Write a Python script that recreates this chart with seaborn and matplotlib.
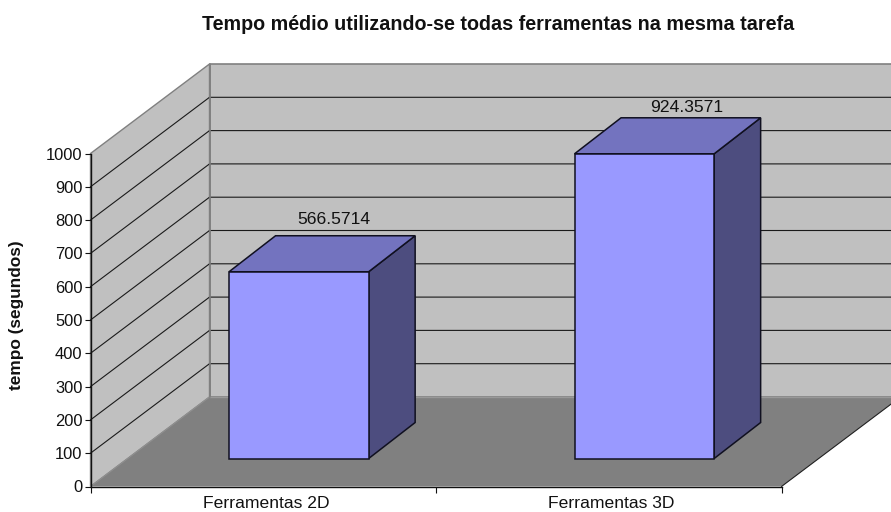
import numpy as np
import pandas as pd
import matplotlib
matplotlib.use("Agg")
import matplotlib.pyplot as plt
from matplotlib.patches import Polygon
import seaborn as sns

categories = ["Ferramentas 2D", "Ferramentas 3D"]
values = [566.5714, 924.3571]
value_labels = ["566.5714", "924.3571"]
y_ticks = list(range(0, 1001, 100))
title_text = "Tempo médio utilizando-se todas ferramentas na mesma tarefa"
y_label = "tempo (segundos)"

W, H = 891, 512
sns.set_theme(style="white")
plt.rcParams["font.family"] = ["Liberation Sans", "DejaVu Sans"]

# pixel calibration of the front plane
PX_PER_CAT = 345.5
PX_PER_UNIT = 0.333
X0_PX, Y0_PX = 263.25, 486.5
WALL_DX = 119 / PX_PER_CAT
WALL_DY = 89.5 / PX_PER_UNIT
BAR_DX = 46.5 / PX_PER_CAT
BAR_DY = 36 / PX_PER_UNIT
BAR_SHIFT = 35.6 / PX_PER_CAT
BAR_LIFT = 84
BAR_SCALE = 0.99
BAR_WIDTH = 0.404
LABEL_OFFSETS_PX = [(35, 52), (42.5, 46.5)]  # from front-face top centre

fig = plt.figure(figsize=(W / 100, H / 100), dpi=100, facecolor="white")
ax = fig.add_axes([0, 0, 1, 1], facecolor="white")

df = pd.DataFrame({"cat": categories, "val": np.array(values) * BAR_SCALE})
sns.barplot(data=df, x="cat", y="val", ax=ax, color="#9999FF", saturation=1,
            width=BAR_WIDTH, gap=0, bottom=BAR_LIFT, errorbar=None,
            edgecolor="#101020", linewidth=1.1, zorder=5)

xlim = ((0 - X0_PX) / PX_PER_CAT, (W - X0_PX) / PX_PER_CAT)
ylim = ((Y0_PX - H) / PX_PER_UNIT, Y0_PX / PX_PER_UNIT)
ax.set_xlim(xlim)
ax.set_ylim(ylim)

xl, xr = -0.5, 1.5
far = xr + WALL_DX + 1
EDGE = "#808080"
# walls and floor
ax.add_patch(Polygon([(xl, 0), (xl, 1000), (xl + WALL_DX, 1000 + WALL_DY), (xl + WALL_DX, WALL_DY)],
                     closed=True, fc="#C0C0C0", ec=EDGE, lw=1.0, zorder=0.5))
ax.add_patch(Polygon([(xl + WALL_DX, WALL_DY), (xl + WALL_DX, 1000 + WALL_DY), (far, 1000 + WALL_DY), (far, WALL_DY)],
                     closed=True, fc="#C0C0C0", ec=EDGE, lw=1.2, zorder=0.5))
ax.add_patch(Polygon([(xl, 0), (xr, 0), (xr + WALL_DX, WALL_DY), (xl + WALL_DX, WALL_DY)],
                     closed=True, fc="#808080", ec="none", zorder=0.6))
ax.plot([xl, xl + WALL_DX], [0, WALL_DY], color="#909090", lw=0.8, zorder=0.7)
ax.plot([xr, xr + WALL_DX], [0, WALL_DY], color="#202020", lw=0.8, zorder=0.7)
ax.plot([xl + WALL_DX, far], [WALL_DY, WALL_DY], color="#999999", lw=1.0, zorder=0.7)
ax.plot([xl + WALL_DX, xl + WALL_DX], [WALL_DY, WALL_DY + 1000], color=EDGE, lw=1.2, zorder=0.8)

# gridlines on side and back walls
for t in y_ticks:
    if t == 0 or t == 1000:
        continue
    ax.plot([xl, xl + WALL_DX, far], [t, t + WALL_DY, t + WALL_DY],
            color="#1a1a1a", lw=0.8, zorder=0.75)

# 3-D faces and labels of each bar
for bar, lab, (ox, oy) in zip(ax.patches, value_labels, LABEL_OFFSETS_PX):
    bar.set_x(bar.get_x() + BAR_SHIFT)
    x0, x1 = bar.get_x(), bar.get_x() + bar.get_width()
    y0, y1 = bar.get_y(), bar.get_y() + bar.get_height()
    ax.add_patch(Polygon([(x1, y0), (x1, y1), (x1 + BAR_DX, y1 + BAR_DY), (x1 + BAR_DX, y0 + BAR_DY)],
                         closed=True, fc="#4D4D7F", ec="#101020", lw=1.1, zorder=4))
    ax.add_patch(Polygon([(x0, y1), (x1, y1), (x1 + BAR_DX, y1 + BAR_DY), (x0 + BAR_DX, y1 + BAR_DY)],
                         closed=True, fc="#7373BF", ec="#101020", lw=1.1, zorder=4))
    ax.text((x0 + x1) / 2 + ox / PX_PER_CAT, y1 + oy / PX_PER_UNIT, lab,
            ha="center", va="center", fontsize=12.6, color="#111111", zorder=6)

# axes
for s in ("top", "right"):
    ax.spines[s].set_visible(False)
ax.spines["left"].set_position(("data", xl))
ax.spines["left"].set_bounds(0, 1000)
ax.spines["bottom"].set_position(("data", 0))
ax.spines["bottom"].set_bounds(xl, xr)
for s in ("left", "bottom"):
    ax.spines[s].set_color("#111111")
    ax.spines[s].set_linewidth(1.0)
    ax.spines[s].set_zorder(3)
ax.set_yticks(y_ticks)
label_nudge = 3 / PX_PER_CAT
ax.set_xticks([0 + label_nudge, 1 + label_nudge])
ax.set_xticklabels(categories)
ax.set_xticks([xl, 0.5, xr], minor=True)
ax.tick_params(axis="y", which="major", left=True, length=4.2, width=0.8, color="#111111",
               labelsize=11.9, labelcolor="#111111", pad=1.6)
ax.tick_params(axis="x", which="major", bottom=False, length=0, labelsize=12.6,
               labelcolor="#111111", pad=7.2)
ax.tick_params(axis="x", which="minor", bottom=True, length=4.4, width=0.8, color="#111111")
ax.set_xlabel("")
ax.set_ylabel("")

fig.text(498 / W, 1 - 24 / H, title_text, ha="center", va="center",
         fontsize=14.2, fontweight="bold", color="#111111")
fig.text(17 / W, 1 - 315 / H, y_label, ha="center", va="center", rotation=90,
         fontsize=12.4, fontweight="bold", color="#111111")

fig.savefig("out.png", dpi=100)
